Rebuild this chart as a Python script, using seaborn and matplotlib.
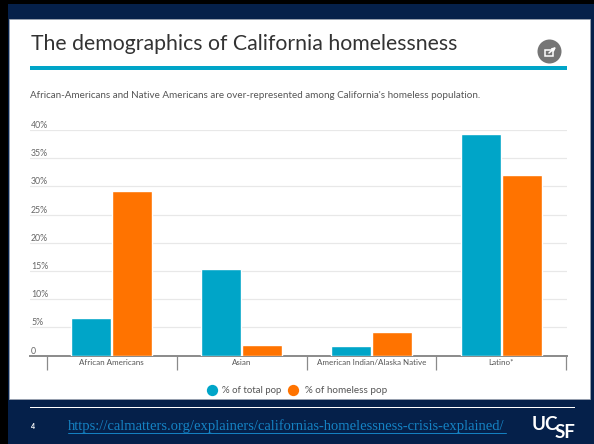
import matplotlib
matplotlib.use("Agg")
import matplotlib.pyplot as plt
from matplotlib.patches import Rectangle, Circle
from matplotlib.transforms import ScaledTranslation
import pandas as pd
import seaborn as sns

categories = ["African Americans", "Asian", "American Indian/Alaska Native", "Latino*"]
total_pop = [6.6, 15.3, 1.7, 39.3]
homeless_pop = [29.2, 1.9, 4.2, 32.0]
series_names = ["% of total pop", "% of homeless pop"]
y_ticks = [0, 5, 10, 15, 20, 25, 30, 35, 40]
y_labels = ["0", "5%", "10%", "15%", "20%", "25%", "30%", "35%", "40%"]
TITLE = "The demographics of California homelessness"
SUBTITLE = "African-Americans and Native Americans are over-represented among California's homeless population."
URL = "https://calmatters.org/explainers/californias-homelessness-crisis-explained/"

sns.set_theme(style="white")
plt.rcParams["font.family"] = ["Lato", "DejaVu Sans"]
W, H = 594, 444
NAVY, BLUE, ORANGE = "#05204a", "#00a5c8", "#ff7300"

fig = plt.figure(figsize=(W / 100, H / 100), dpi=100, facecolor=NAVY)
bg = fig.add_axes([0, 0, 1, 1], zorder=0)
bg.set_xlim(0, W); bg.set_ylim(H, 0); bg.axis("off")
bg.add_patch(Rectangle((0, 0), W, 4, color="black", lw=0))
bg.add_patch(Rectangle((0, 0), 8, H, color="black", lw=0))
bg.add_patch(Rectangle((9, 19.5), 581, 379.5, fc="white", ec="#9aa3b0", lw=0.6))
bg.add_patch(Rectangle((30, 66.5), 537, 3.2, color=BLUE, lw=0))
bg.add_patch(Rectangle((30, 407), 545, 1, color="white", lw=0))
bg.add_patch(Circle((549.5, 51.5), 12, color="#757575", lw=0))
bg.add_patch(Rectangle((545, 50), 8, 6, fill=False, ec="white", lw=1.1))
bg.annotate("", xy=(556, 47), xytext=(549, 53),
            arrowprops=dict(arrowstyle="-|>", color="white", lw=1.1, mutation_scale=5,
                            shrinkA=0, shrinkB=0))
bg.text(31, 44, TITLE, fontsize=15.3, color="#333333", va="center", ha="left")
bg.text(30, 95, SUBTITLE, fontsize=7.15, color="#555555", va="center", ha="left")
bg.text(31, 426, "4", fontsize=5, color="white", va="center", ha="left", fontweight="bold")
bg.text(68, 426, URL, fontsize=10.5, color="#1583c4", va="center", ha="left",
        family="Liberation Serif", url=URL)
bg.plot([68, 506], [433, 433], color="#1583c4", lw=0.7)
bg.text(532, 424.5, "UC", fontsize=13.5, color="white", fontweight="bold", va="center", ha="left")
bg.text(555, 432, "SF", fontsize=13.5, color="white", fontweight="bold", va="center", ha="left")

left, right, top, bottom = 30, 567, 130, 355.5
ax = fig.add_axes([left / W, 1 - bottom / H, (right - left) / W, (bottom - top) / H], zorder=1)
ax.patch.set_alpha(0)
df = pd.DataFrame({
    "category": categories * 2,
    "value": total_pop + homeless_pop,
    "series": [series_names[0]] * 4 + [series_names[1]] * 4,
})
sns.barplot(data=df, x="category", y="value", hue="series", ax=ax, width=0.63, gap=0.02,
            palette=[BLUE, ORANGE], saturation=1, legend=False, zorder=3)
unit = (566 - 47) / 4
ax.set_xlim(-0.5 - 17 / unit, 3.5 + 1 / unit)
ax.set_ylim(0, 40)
ax.set_xlabel(""); ax.set_ylabel("")
ax.set_yticks(y_ticks)
ax.set_yticklabels(y_labels, fontsize=6.3, color="#666666", ha="left", va="bottom")
ax.tick_params(axis="y", length=0, pad=0, direction="in")
offset = ScaledTranslation(1 / 100, 0, fig.dpi_scale_trans)
for lab in ax.get_yticklabels():
    lab.set_transform(ax.get_yaxis_transform() + offset)
    lab.set_x(0)
ax.grid(axis="y", color="#e8e8e8", lw=0.9, zorder=0)
ax.set_axisbelow(True)
ax.set_xticks(range(4))
ax.set_xticklabels(categories, fontsize=5.8, color="#555555", va="baseline")
ax.tick_params(axis="x", which="major", length=0, pad=7)
ax.set_xticks([-0.5, 0.5, 1.5, 2.5, 3.5], minor=True)
ax.tick_params(axis="x", which="minor", length=10, width=0.9, color="#8a8a8a", bottom=True)
for s in ["top", "left", "right"]:
    ax.spines[s].set_visible(False)
ax.spines["bottom"].set_color("#8a8a8a")
ax.spines["bottom"].set_linewidth(1.4)

bg.scatter([212], [390], s=66, color=BLUE, lw=0)
bg.text(222, 390, series_names[0], fontsize=6.9, color="#555555", va="center", ha="left")
bg.scatter([293], [390], s=66, color=ORANGE, lw=0)
bg.text(305, 390, series_names[1], fontsize=7.1, color="#555555", va="center", ha="left")
fig.savefig("out.png", dpi=100, facecolor=NAVY)
